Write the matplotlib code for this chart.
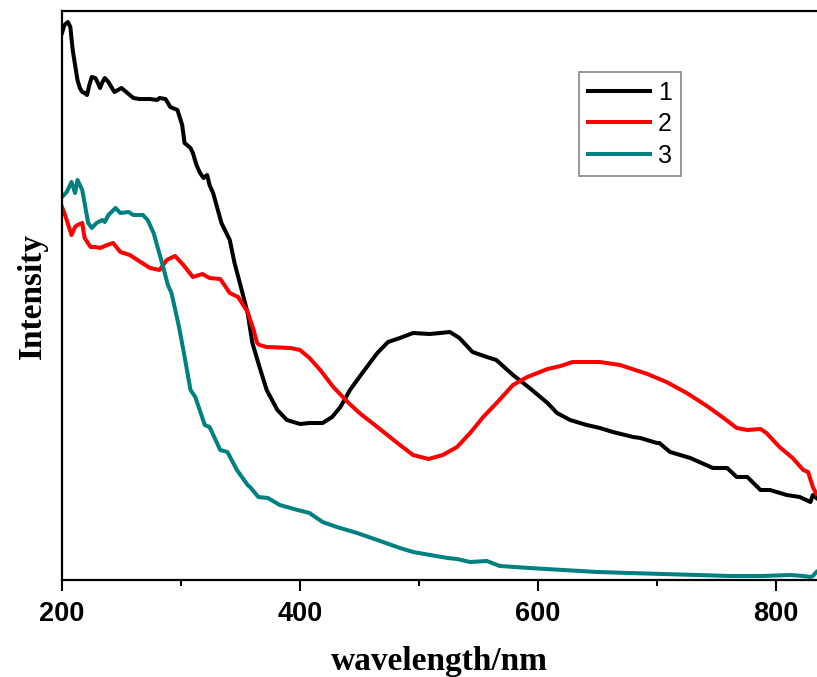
import matplotlib
matplotlib.use("Agg")
import matplotlib.pyplot as plt
from matplotlib.ticker import MultipleLocator

# ---- data (wavelength in nm, intensity in arbitrary units) ----
wl1 = [200, 202, 205, 207, 209, 213, 215, 217, 219, 221, 223, 225, 228, 229, 232, 234, 236, 239,
       242, 244, 247, 250, 255, 260, 265, 274, 280, 282, 287, 291, 297, 301, 303, 308, 310, 313,
       316, 319, 322, 324, 327, 334, 341, 345, 351, 356, 360, 366, 372, 381, 389, 400, 408, 419,
       427, 434, 442, 453, 465, 474, 484, 495, 509, 518, 526, 534, 545, 557, 565, 579, 593, 608,
       616, 627, 641, 652, 663, 680, 686, 700, 702, 711, 728, 747, 759, 767, 776, 787, 795, 809,
       820, 829, 831, 834]
int1 = [547, 555, 558, 553, 530, 500, 492, 488, 487, 485, 495, 503, 502, 500, 492, 498, 502, 498,
        492, 488, 490, 492, 487, 482, 481, 481, 480, 482, 481, 473, 470, 455, 437, 432, 427, 415,
        407, 402, 405, 395, 387, 357, 340, 317, 290, 267, 237, 213, 190, 170, 160, 156, 157, 157,
        163, 173, 190, 208, 227, 238, 242, 247, 246, 247, 248, 242, 228, 223, 220, 205, 192, 177,
        167, 160, 155, 152, 148, 143, 142, 137, 137, 128, 122, 112, 112, 103, 103, 90, 90, 85,
        83, 78, 85, 82]

wl2 = [200, 202, 208, 211, 213, 217, 219, 224, 228, 232, 238, 243, 249, 257, 266, 274, 282, 288,
       295, 302, 310, 318, 324, 333, 341, 348, 356, 361, 364, 366, 372, 392, 400, 408, 417, 428,
       440, 450, 465, 484, 495, 508, 520, 532, 543, 554, 566, 579, 591, 608, 619, 629, 641, 652,
       669, 692, 708, 725, 742, 756, 767, 776, 787, 792, 803, 814, 823, 827, 831, 834]
int2 = [373, 367, 345, 353, 355, 357, 342, 333, 333, 332, 335, 337, 328, 325, 318, 312, 310, 320,
        324, 315, 303, 306, 302, 301, 287, 283, 268, 250, 237, 235, 233, 232, 230, 222, 210, 193,
        178, 167, 153, 135, 125, 121, 125, 133, 147, 163, 178, 195, 203, 211, 214, 218, 218, 218,
        215, 206, 198, 187, 174, 162, 152, 150, 151, 147, 133, 122, 110, 108, 93, 86]

wl3 = [200, 204, 208, 211, 213, 217, 219, 222, 225, 229, 234, 236, 239, 245, 249, 256, 260, 268,
       272, 277, 281, 285, 289, 292, 298, 302, 308, 312, 320, 324, 333, 339, 347, 356, 358, 365,
       373, 383, 398, 408, 419, 431, 448, 465, 484, 495, 524, 532, 543, 557, 568, 593, 621, 650,
       677, 705, 734, 761, 789, 812, 823, 829, 831, 834]
int3 = [383, 388, 398, 387, 400, 390, 377, 357, 352, 357, 360, 358, 365, 372, 367, 368, 365, 365,
        360, 347, 330, 313, 295, 287, 255, 230, 190, 183, 155, 153, 130, 128, 110, 95, 93, 83,
        82, 75, 70, 67, 58, 53, 47, 40, 32, 28, 22, 21, 18, 19, 14, 12, 10, 8,
        7, 6, 5, 4, 4, 5, 4, 3, 4, 8]

labels = ["1", "2", "3"]
colors = ["#000000", "#FF0000", "#008080"]
xticks = [200, 400, 600, 800]

W, H = 817, 677
fig = plt.figure(figsize=(W / 100, H / 100), dpi=100)
ax = fig.add_axes([62 / W, 1 - 580 / H, (W - 62) / W, (580 - 11) / H])

for x, y, lab, c in zip([wl1, wl2, wl3], [int1, int2, int3], labels, colors):
    ax.plot(x, y, color=c, lw=2.9, label=lab, solid_joinstyle="round")

ax.set_xlim(200, 834.5)
ax.set_ylim(0, 569)
ax.set_xticks(xticks)
ax.xaxis.set_minor_locator(MultipleLocator(100))
ax.set_yticks([])
ax.spines["right"].set_visible(False)
for s in ["left", "bottom", "top"]:
    ax.spines[s].set_linewidth(1.6)
ax.tick_params(axis="x", which="major", direction="out", length=8, width=1.5, pad=7)
ax.tick_params(axis="x", which="minor", direction="out", length=4.5, width=1.5)
for t in ax.get_xticklabels():
    t.set_fontfamily("Liberation Sans")
    t.set_fontweight("bold")
    t.set_fontsize(19.5)

ax.set_xlabel("wavelength/nm", fontfamily="Liberation Serif", fontweight="bold", fontsize=24, labelpad=14)
ax.set_ylabel("Intensity", fontfamily="Liberation Serif", fontweight="bold", fontsize=24, labelpad=10)

leg = ax.legend(loc="upper left", bbox_to_anchor=((579 - 62) / (W - 62), (580 - 72) / 569),
                prop={"family": "Liberation Sans", "size": 18}, handlelength=2.5,
                handletextpad=0.3, labelspacing=0.3, borderpad=0.35, borderaxespad=0,
                fancybox=False, frameon=True)
leg.get_frame().set_edgecolor("#666666")
leg.get_frame().set_linewidth(1.2)

fig.savefig("out.png", dpi=100)
